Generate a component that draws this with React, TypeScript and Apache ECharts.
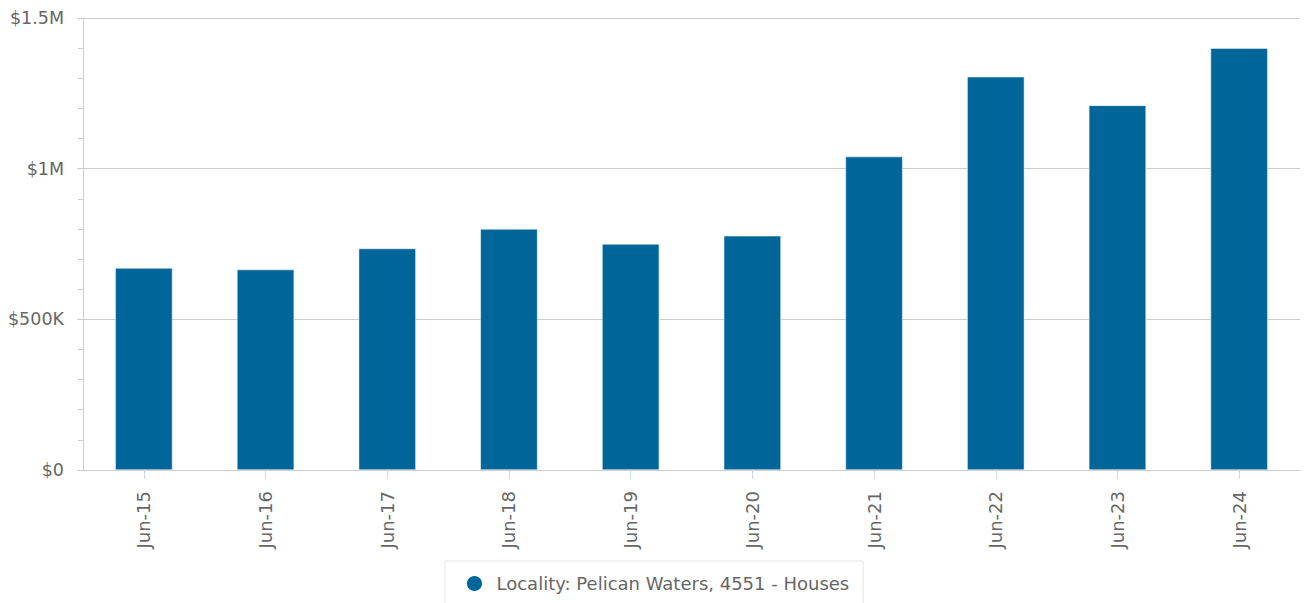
import React, { useEffect, useRef } from "react";
import * as echarts from "echarts";

const categories = ["Jun-15", "Jun-16", "Jun-17", "Jun-18", "Jun-19", "Jun-20", "Jun-21", "Jun-22", "Jun-23", "Jun-24"];
const values = [670000, 665000, 735000, 800000, 750000, 777000, 1040000, 1305000, 1210000, 1400000];
const seriesName = "Locality: Pelican Waters, 4551 - Houses";
const yTicks = [0, 500000, 1000000, 1500000];

function fmt(v: number): string {
  if (v === 0) return "$0";
  if (v >= 1000000) return "$" + v / 1000000 + "M";
  return "$" + v / 1000 + "K";
}

export default function App() {
  const ref = useRef<HTMLDivElement>(null);
  useEffect(() => {
    if (!ref.current) return;
    const chart = echarts.init(ref.current, undefined, { renderer: "svg" });
    const font = "DejaVu Sans";
    chart.setOption({
      animation: false,
      textStyle: { fontFamily: font },
      grid: { left: 83, right: 6, top: 18, bottom: 133, containLabel: false },
      xAxis: {
        type: "category",
        data: categories,
        axisLine: { show: true, lineStyle: { color: "#cccccc", width: 1 } },
        axisTick: { show: true, alignWithLabel: true, length: 9, lineStyle: { color: "#ccd6eb" } },
        axisLabel: { rotate: 90, color: "#666666", fontSize: 18, fontFamily: font, margin: 21 },
      },
      yAxis: {
        type: "value",
        min: yTicks[0],
        max: yTicks[yTicks.length - 1],
        interval: 500000,
        axisLine: { show: true, lineStyle: { color: "#cccccc", width: 1 } },
        axisTick: { show: true, length: 6, lineStyle: { color: "#cccccc" } },
        minorTick: { show: true, splitNumber: 5, length: 5, lineStyle: { color: "#cccccc" } },
        splitLine: { show: true, lineStyle: { color: "#cccccc", width: 1 } },
        axisLabel: { color: "#666666", fontSize: 17.5, fontFamily: font, margin: 19, formatter: (v: number) => fmt(v) },
      },
      legend: {
        show: true,
        left: 445,
        top: 561,
        padding: [13, 14, 14, 20],
        itemWidth: 34,
        itemHeight: 17,
        symbolKeepAspect: true,
        icon: "circle",
        borderColor: "#e6e6e6",
        borderWidth: 1,
        textStyle: { color: "#666666", fontSize: 18, fontFamily: font },
        data: [seriesName],
      },
      series: [
        {
          name: seriesName,
          type: "bar",
          data: values,
          barWidth: "47%",
          itemStyle: { color: "#006699", borderColor: "#ffffff", borderWidth: 0.5 },
        },
      ],
    });
    return () => chart.dispose();
  }, []);
  return <div ref={ref} style={{ width: 1306, height: 603, position: "absolute", left: 0, top: 0 }} />;
}
